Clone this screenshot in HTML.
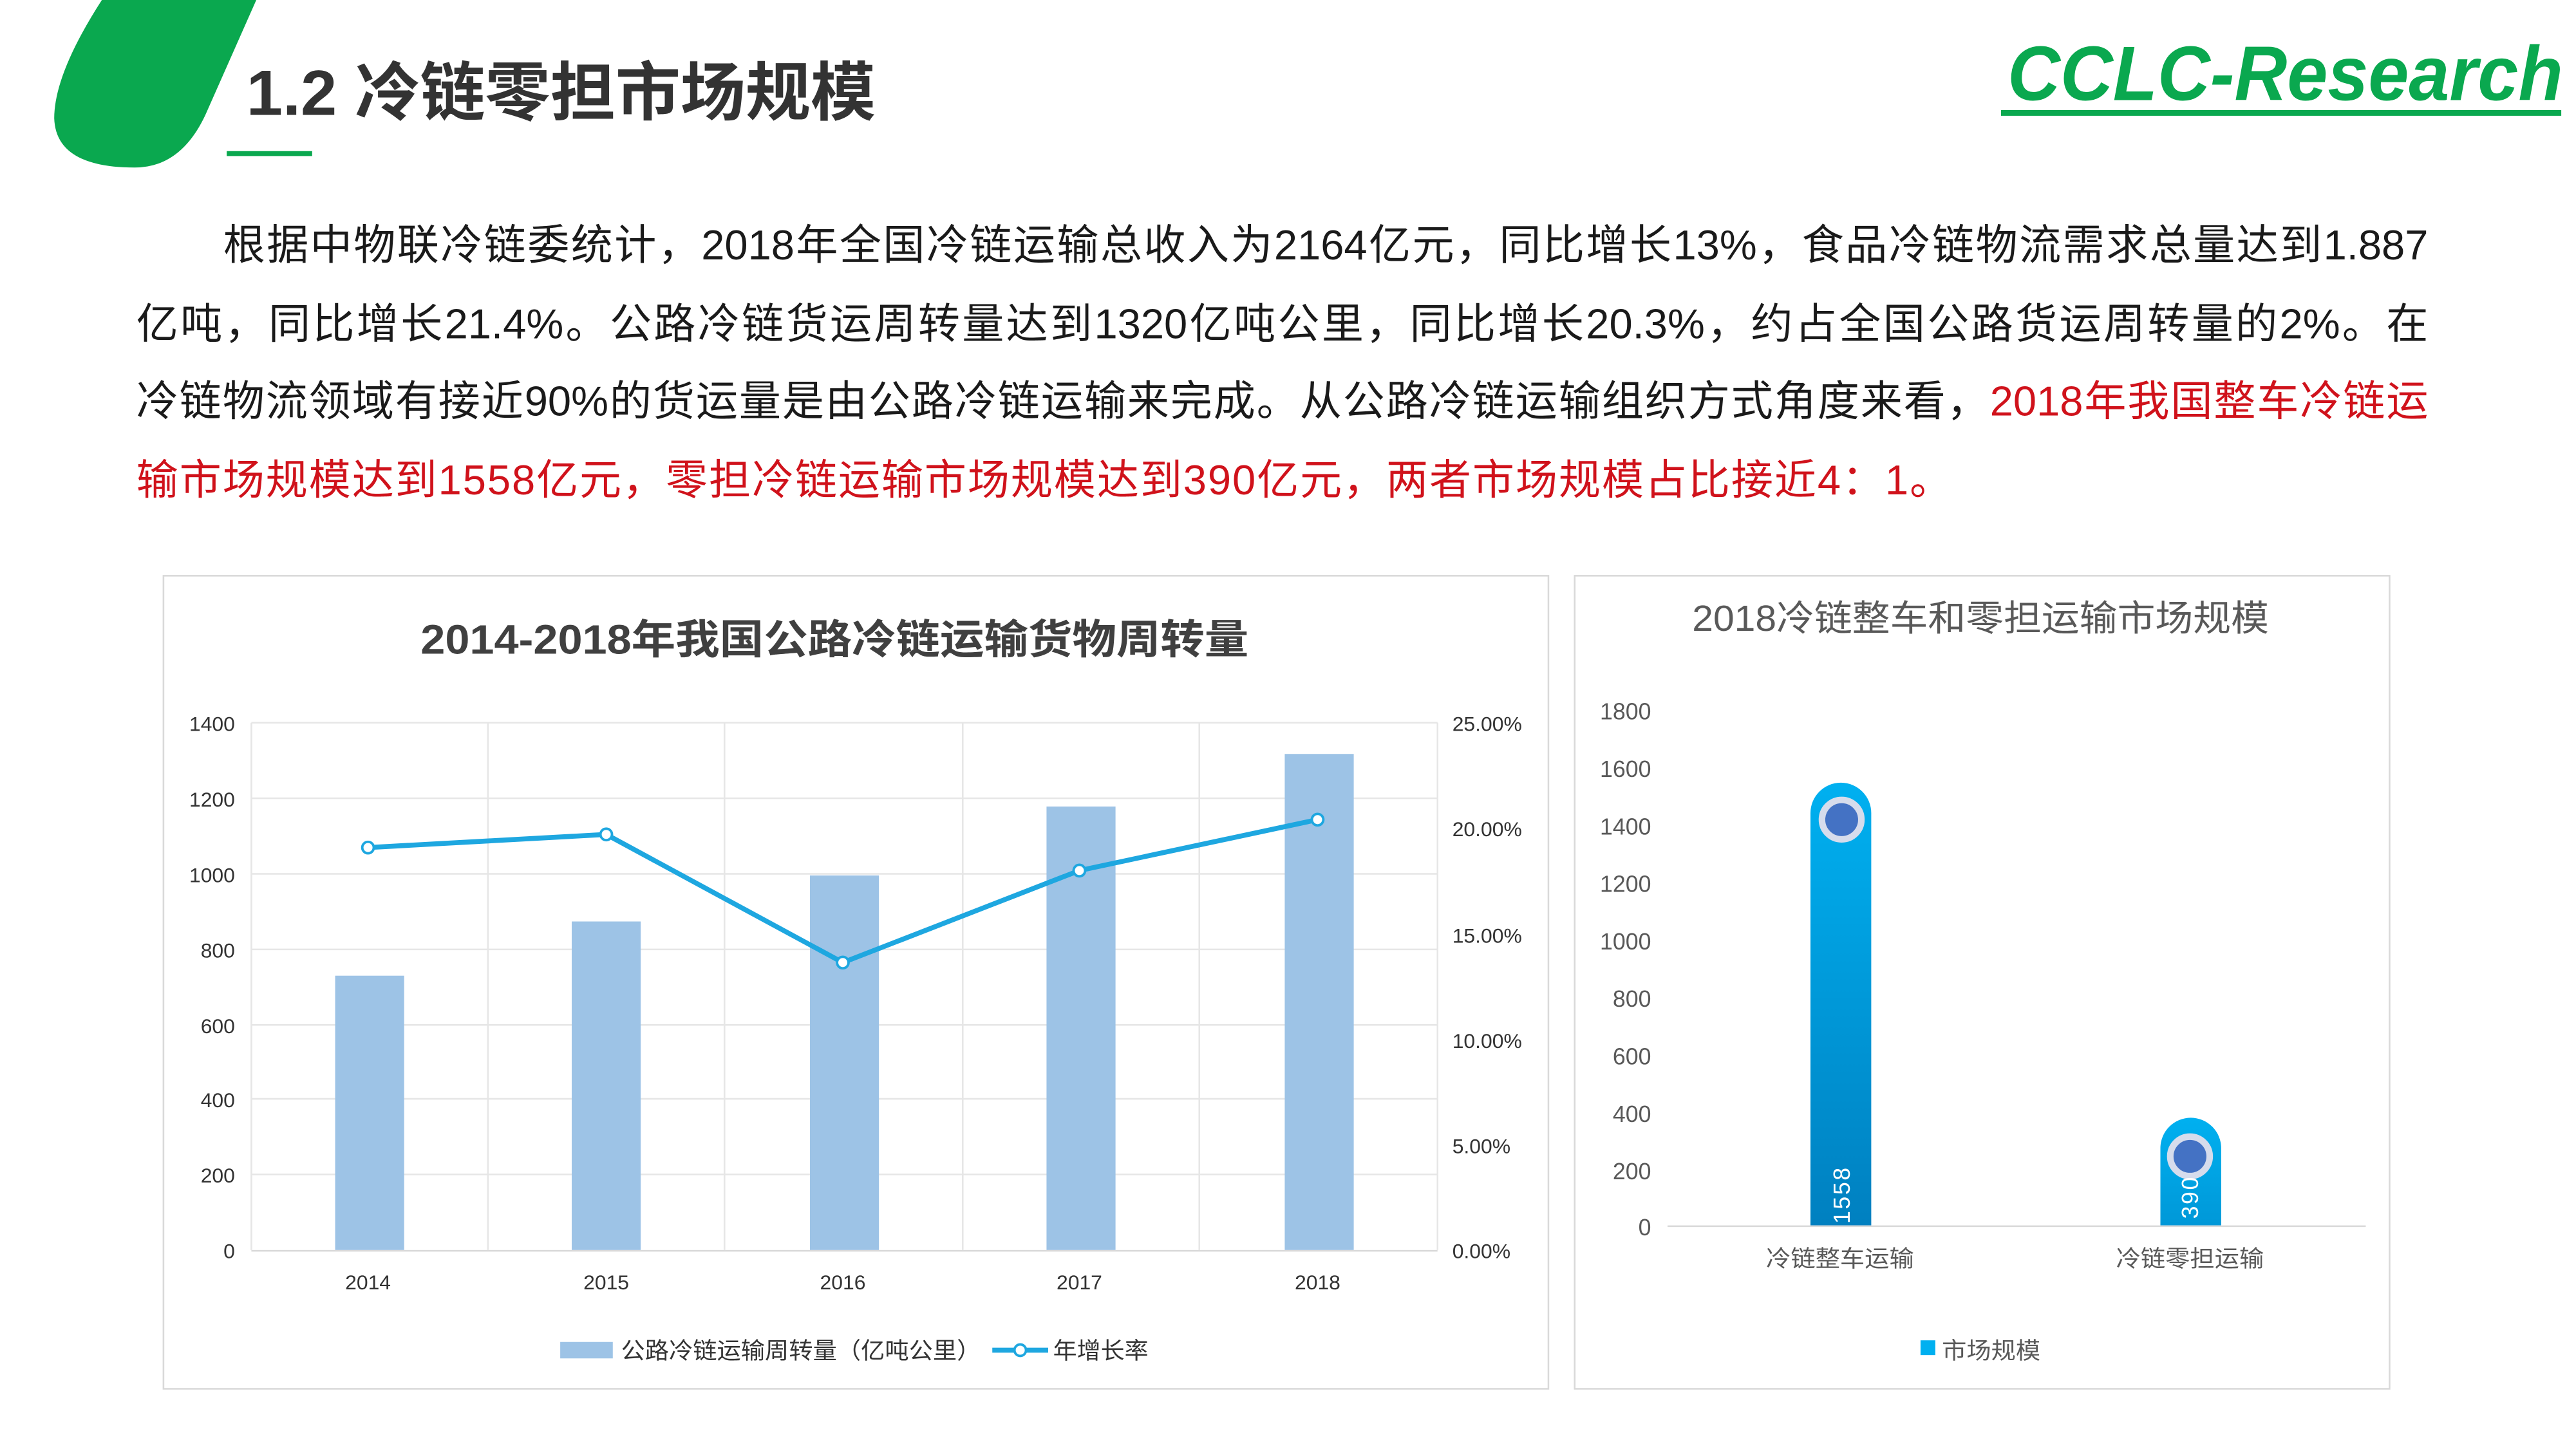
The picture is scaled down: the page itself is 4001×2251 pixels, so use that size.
<!DOCTYPE html>
<html><head><meta charset="utf-8"><style>
html,body{margin:0;padding:0;background:#fff;}
body{width:4001px;height:2250px;overflow:hidden;position:relative;}
#s{position:absolute;left:0;top:0;width:1568px;height:882px;transform:scale(2.5517);transform-origin:0 0;font-family:"Liberation Sans","Noto Sans CJK SC",sans-serif;}
.p{position:absolute;left:83px;top:127px;width:1395px;font-size:25.5px;line-height:47.5px;color:#1a1a1a;}
.p div{text-align:justify;text-align-last:justify;white-space:nowrap;}
.p div.last{text-align-last:left;letter-spacing:0.75px;}
.r{color:#d0121b;}
</style></head><body><div id="s">
<svg width="1568" height="882" style="position:absolute;left:0;top:0" font-family="Liberation Sans, Noto Sans CJK SC, sans-serif">
<path d="M62 0 L156 0 L125 70 Q110 102 82 102 Q34 102 33 72 Q33 45 62 0 Z" fill="#0aa84f"/>
<text x="150" y="70" font-size="39" font-weight="bold" fill="#333" textLength="383" lengthAdjust="spacingAndGlyphs">1.2 冷链零担市场规模</text>
<rect x="138" y="92" width="52" height="3" fill="#0aa84f"/>
<text x="1222" y="61" font-size="47" font-weight="bold" font-style="italic" fill="#0aa84f" textLength="338" lengthAdjust="spacingAndGlyphs">CCLC-Research</text>
<rect x="1218" y="67" width="341" height="3.5" fill="#0aa84f"/>

<rect x="99.5" y="350.5" width="843" height="495" fill="#fff" stroke="#d9d9d9"/>
<text x="256" y="398" font-size="25" font-weight="bold" fill="#404040" textLength="504" lengthAdjust="spacingAndGlyphs">2014-2018年我国公路冷链运输货物周转量</text>
<g stroke="#e6e6e6" stroke-width="1">
<line x1="153" x2="875" y1="440" y2="440"/><line x1="153" x2="875" y1="486" y2="486"/><line x1="153" x2="875" y1="532" y2="532"/><line x1="153" x2="875" y1="578" y2="578"/><line x1="153" x2="875" y1="624" y2="624"/><line x1="153" x2="875" y1="669" y2="669"/><line x1="153" x2="875" y1="715" y2="715"/>
<line x1="153" x2="153" y1="440" y2="761"/><line x1="297" x2="297" y1="440" y2="761"/><line x1="441" x2="441" y1="440" y2="761"/><line x1="586" x2="586" y1="440" y2="761"/><line x1="730" x2="730" y1="440" y2="761"/><line x1="875" x2="875" y1="440" y2="761"/>
</g>
<g fill="#9dc3e6">
<rect x="204" y="594" width="42" height="167"/>
<rect x="348" y="561" width="42" height="200"/>
<rect x="493" y="533" width="42" height="228"/>
<rect x="637" y="491" width="42" height="270"/>
<rect x="782" y="459" width="42" height="302"/>
</g>
<line x1="153" x2="875" y1="761.5" y2="761.5" stroke="#d9d9d9"/>
<polyline points="224,516 369,508 513,586 657,530 802,499" fill="none" stroke="#1ea7e0" stroke-width="3"/>
<g fill="#fff" stroke="#1ea7e0" stroke-width="1.5">
<circle cx="224" cy="516" r="3.5"/><circle cx="369" cy="508" r="3.5"/><circle cx="513" cy="586" r="3.5"/><circle cx="657" cy="530" r="3.5"/><circle cx="802" cy="499" r="3.5"/></g>
<g font-size="12.5" fill="#333" text-anchor="end">
<text x="143" y="445">1400</text><text x="143" y="491">1200</text><text x="143" y="537">1000</text><text x="143" y="583">800</text><text x="143" y="629">600</text><text x="143" y="674">400</text><text x="143" y="720">200</text><text x="143" y="766">0</text></g>
<g font-size="12.5" fill="#333">
<text x="884" y="445">25.00%</text><text x="884" y="509">20.00%</text><text x="884" y="574">15.00%</text><text x="884" y="638">10.00%</text><text x="884" y="702">5.00%</text><text x="884" y="766">0.00%</text></g>
<g font-size="12.5" fill="#333" text-anchor="middle">
<text x="224" y="785">2014</text><text x="369" y="785">2015</text><text x="513" y="785">2016</text><text x="657" y="785">2017</text><text x="802" y="785">2018</text></g>
<rect x="341" y="817" width="32" height="10" fill="#9dc3e6"/>
<text x="378" y="827" font-size="14" fill="#333" textLength="219" lengthAdjust="spacingAndGlyphs">公路冷链运输周转量（亿吨公里）</text>
<line x1="604" x2="638" y1="822" y2="822" stroke="#1ea7e0" stroke-width="3"/>
<circle cx="621" cy="822" r="3.5" fill="#fff" stroke="#1ea7e0" stroke-width="1.5"/>
<text x="641" y="827" font-size="14" fill="#333" textLength="58" lengthAdjust="spacingAndGlyphs">年增长率</text>

<rect x="958.5" y="350.5" width="496" height="495" fill="#fff" stroke="#d9d9d9"/>
<text x="1030" y="384" font-size="22" fill="#595959" textLength="351" lengthAdjust="spacingAndGlyphs">2018冷链整车和零担运输市场规模</text>
<g font-size="14" fill="#595959" text-anchor="end">
<text x="1005" y="438">1800</text><text x="1005" y="473">1600</text><text x="1005" y="508">1400</text><text x="1005" y="543">1200</text><text x="1005" y="578">1000</text><text x="1005" y="613">800</text><text x="1005" y="648">600</text><text x="1005" y="683">400</text><text x="1005" y="718">200</text><text x="1005" y="752">0</text></g>
<defs><linearGradient id="g" x1="0" y1="0" x2="0" y2="1"><stop offset="0" stop-color="#00b0f0"/><stop offset="1" stop-color="#0080c0"/></linearGradient>
<linearGradient id="g2" x1="0" y1="0" x2="0" y2="1"><stop offset="0" stop-color="#00b0f0"/><stop offset="1" stop-color="#0098d8"/></linearGradient></defs>
<path d="M1102 746 L1102 495 A18.5 18.5 0 0 1 1139 495 L1139 746 Z" fill="url(#g)"/>
<path d="M1315 746 L1315 699 A18.5 18.5 0 0 1 1352 699 L1352 746 Z" fill="url(#g2)"/>
<line x1="1015" x2="1440" y1="746.5" y2="746.5" stroke="#d9d9d9"/>
<circle cx="1121" cy="499" r="12" fill="#4472c4" stroke="#d6dcec" stroke-width="4"/>
<circle cx="1333" cy="704" r="12" fill="#4472c4" stroke="#d6dcec" stroke-width="4"/>
<text transform="translate(1126,745) rotate(-90)" font-size="14" fill="#fff" letter-spacing="1">1558</text>
<text transform="translate(1338,742) rotate(-90)" font-size="14" fill="#fff" letter-spacing="1">390</text>
<g font-size="14" fill="#595959" text-anchor="middle">
<text x="1120" y="771" textLength="90" lengthAdjust="spacingAndGlyphs">冷链整车运输</text><text x="1333" y="771" textLength="90" lengthAdjust="spacingAndGlyphs">冷链零担运输</text></g>
<rect x="1169" y="816" width="9" height="9" fill="#00b0f0"/>
<text x="1182" y="827" font-size="14" fill="#595959" textLength="60" lengthAdjust="spacingAndGlyphs">市场规模</text>
</svg>
<div class="p">
<div>　　根据中物联冷链委统计，2018年全国冷链运输总收入为2164亿元，同比增长13%，食品冷链物流需求总量达到1.887</div>
<div>亿吨，同比增长21.4%。公路冷链货运周转量达到1320亿吨公里，同比增长20.3%，约占全国公路货运周转量的2%。在</div>
<div>冷链物流领域有接近90%的货运量是由公路冷链运输来完成。从公路冷链运输组织方式角度来看，<span class="r">2018年我国整车冷链运</span></div>
<div class="last r">输市场规模达到1558亿元，零担冷链运输市场规模达到390亿元，两者市场规模占比接近4：1。</div>
</div>
</div></body></html>
